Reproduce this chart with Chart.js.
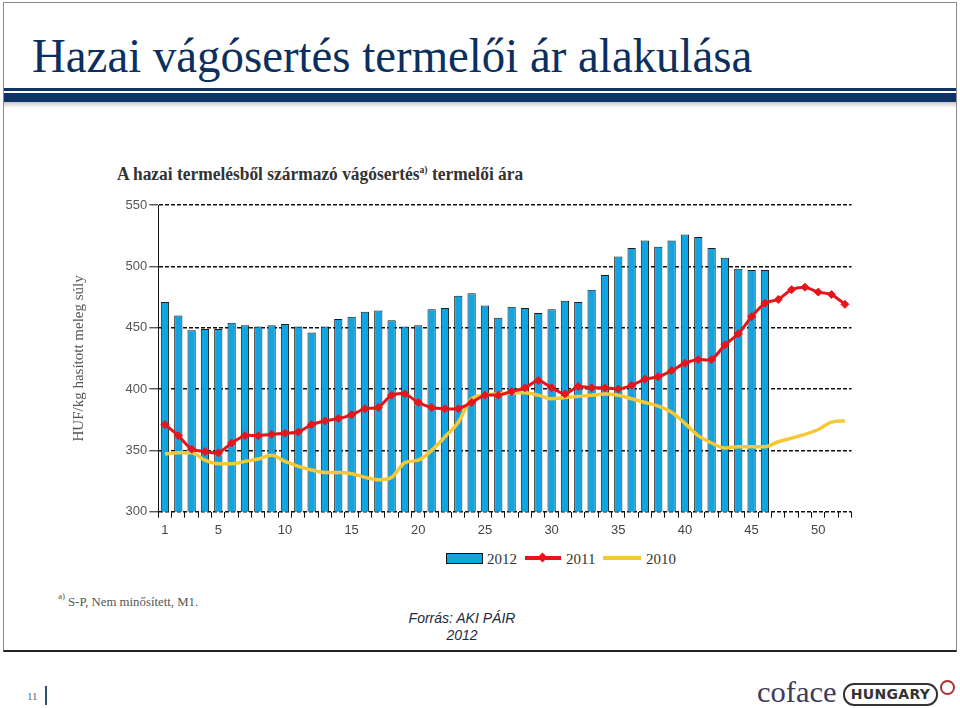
<!DOCTYPE html>
<html lang="hu">
<head>
<meta charset="utf-8">
<title>Hazai vágósertés termelői ár alakulása</title>
<script src="https://cdn.jsdelivr.net/npm/chart.js@4.4.1/dist/chart.umd.min.js"></script>
<style>
  html, body { margin: 0; padding: 0; background: #fff; }
  #page { position: relative; width: 960px; height: 708px; overflow: hidden; font-family: "Liberation Serif", serif; }
  #frame { position: absolute; left: 3px; top: 2px; width: 952px; height: 647px; border: 1px solid #8a8a8a; border-bottom: 2px solid #222; }
  .txt { position: absolute; white-space: nowrap; line-height: 1; transform-origin: 0 0; display: inline-block; }
  #title { left: 32px; top: 32px; font-size: 48px; color: #0b2f5e; }
  #rule1 { position: absolute; left: 4px; top: 88px; width: 952px; height: 3px; background: #0d3463; }
  #rule2 { position: absolute; left: 4px; top: 93px; width: 952px; height: 9px; background: #0d3463; }
  #shadow { position: absolute; left: 4px; top: 102px; width: 952px; height: 6px; background: linear-gradient(#c8c8c8, #fff); }
  #subtitle { left: 117px; top: 165px; font-size: 18px; font-weight: bold; color: #333; }
  #subtitle sup { font-size: 10px; vertical-align: 7px; }
  #chart { position: absolute; left: 60px; top: 190px; }
  #legend { position: absolute; left: 0; top: 0; }
  .lg-box { position: absolute; left: 446px; top: 553px; width: 35px; height: 9px; background: #11a4e2; border: 1px solid #111; }
  .lg-line { position: absolute; height: 4px; }
  .lg-dot { position: absolute; width: 7px; height: 7px; background: #e8141c; transform: rotate(45deg); }
  .lg-txt { position: absolute; top: 551px; font-size: 15px; color: #333; }
  #note { left: 68px; top: 595px; font-size: 13px; color: #555; }
  #note sup { font-size: 9px; position: absolute; left: -10px; top: -3px; }
  .src { position: absolute; width: 200px; left: 362px; text-align: center; font-family: "Liberation Sans", sans-serif; font-style: italic; font-size: 14px; color: #1b2b44; line-height: 1; }
  #pnum { left: 27px; top: 691px; font-size: 11px; color: #5a6a80; }
  #pbar { position: absolute; left: 45px; top: 686px; width: 2px; height: 19px; background: #2f4d6e; }
  #coface { left: 757px; top: 678px; font-size: 29px; color: #3c3c5c; }
  #hun { position: absolute; left: 843px; top: 683px; width: 91px; height: 19px; border: 2px solid #333; border-radius: 11px; font-family: "DejaVu Sans", sans-serif; font-weight: bold; font-size: 14px; color: #333; text-align: center; line-height: 19px; letter-spacing: 0.3px; }
  #emb { position: absolute; left: 940px; top: 680px; width: 11px; height: 11px; border: 2px solid #a33; border-radius: 50%; }
</style>
</head>
<body>
<div id="page">
  <div id="frame"></div>
  <span class="txt" id="title">Hazai vágósertés termelői ár alakulása</span>
  <div id="rule1"></div>
  <div id="rule2"></div>
  <div id="shadow"></div>
  <span class="txt" id="subtitle">A hazai termelésből származó vágósertés<sup>a)</sup> termelői ára</span>
  <canvas id="chart" width="800" height="360"></canvas>
  <div id="legend"></div>
  <span class="txt" id="note"><sup>a)</sup>S-P, Nem minősített, M1.</span>
  <div class="src" style="top:611px">Forrás: AKI PÁIR</div>
  <div class="src" style="top:628px">2012</div>
  <span class="txt" id="pnum">11</span>
  <div id="pbar"></div>
  <span class="txt" id="coface">coface</span>
  <div id="hun">HUNGARY</div>
  <div id="emb"></div>
</div>
<script>
// hetek (1-52)
var weeks = [1,2,3,4,5,6,7,8,9,10,11,12,13,14,15,16,17,18,19,20,21,22,23,24,25,26,
             27,28,29,30,31,32,33,34,35,36,37,38,39,40,41,42,43,44,45,46,47,48,49,50,51,52];
var yTicks = [300, 350, 400, 450, 500, 550];
var seriesNames = ["2012", "2011", "2010"];

// HUF/kg hasított meleg súly
var price2012 = [471,460,448,449,449,454,452,451,452,453,
                 451,446,451,457,459,463,464,456,451,452,
                 465,466,476,478,468,458,467,466,462,465,
                 472,471,481,493,508,515,521,516,521,526,
                 524,515,507,498,497,497];
var price2011 = [371,362,351,349,348,356,362,362,363,364,
                 365,371,374,376,379,384,385,395,396,389,
                 385,384,384,389,395,395,398,401,407,401,
                 396,402,401,401,400,403,408,410,415,421,
                 424,424,436,445,459,470,473,481,483,479,
                 477,469];
var price2010 = [347,348,348,342,339,339,341,343,346,341,
                 337,334,332,332,331,328,326,328,340,342,
                 350,361,373,392,395,396,397,397,395,392,
                 393,394,395,396,395,392,389,386,381,372,
                 362,356,352,353,353,353,357,360,363,367,
                 373,374];

var fit = function (id, w) {
  var el = document.getElementById(id);
  el.style.transform = "scaleX(" + (w / el.offsetWidth) + ")";
};
fit("title", 720);
fit("subtitle", 406);
fit("coface", 80);
fit("note", 130);

// legend
var $lg = document.getElementById("legend");
$lg.innerHTML =
  '<div class="lg-box"></div>' +
  '<span class="lg-txt" style="left:487px">' + seriesNames[0] + '</span>' +
  '<div class="lg-line" style="left:525px;top:556px;width:36px;background:#e8141c"></div>' +
  '<div class="lg-dot" style="left:539px;top:554px"></div>' +
  '<span class="lg-txt" style="left:566px">' + seriesNames[1] + '</span>' +
  '<div class="lg-line" style="left:603px;top:556px;width:38px;background:#f6c934"></div>' +
  '<span class="lg-txt" style="left:646px">' + seriesNames[2] + '</span>';

var tickFont = { family: "Liberation Sans", size: 13 };

new Chart(document.getElementById("chart"), {
  data: {
    labels: weeks,
    datasets: [
      {
        type: "line", label: seriesNames[1], data: price2011, order: 1,
        borderColor: "#e8141c", backgroundColor: "#e8141c", borderWidth: 3,
        pointStyle: "rectRot", pointRadius: 4, pointHoverRadius: 4,
        pointBorderWidth: 1, tension: 0.25
      },
      {
        type: "line", label: seriesNames[2], data: price2010, order: 2,
        borderColor: "#f6c934", borderWidth: 3.5, pointRadius: 0,
        tension: 0.4, cubicInterpolationMode: "monotone"
      },
      {
        type: "bar", label: seriesNames[0], data: price2012, order: 3,
        backgroundColor: "#11a4e2", borderColor: "#1a1a1a", borderWidth: 1,
        barPercentage: 0.62, categoryPercentage: 1
      }
    ]
  },
  options: {
    responsive: false,
    animation: false,
    devicePixelRatio: 1,
    layout: { padding: { top: 15, right: 8.4, left: 0, bottom: 0 } },
    plugins: { legend: { display: false }, tooltip: { enabled: false } },
    scales: {
      x: {
        offset: true,
        grid: { display: true, drawOnChartArea: false, drawTicks: true, tickLength: 6, color: "#111", lineWidth: 1, offset: true },
        border: { display: false },
        ticks: {
          autoSkip: false, maxRotation: 0, minRotation: 0, padding: 5,
          color: "#444", font: tickFont,
          callback: function (v, i) {
            return (weeks[i] === 1 || weeks[i] % 5 === 0) ? weeks[i] : "";
          }
        },
        afterFit: function (s) { s.height = 38.3; }
      },
      y: {
        min: yTicks[0], max: yTicks[yTicks.length - 1],
        afterBuildTicks: function (s) { s.ticks = yTicks.map(function (v) { return { value: v }; }); },
        ticks: { padding: 2, color: "#555", font: tickFont },
        grid: { color: "#111", lineWidth: 1.6, tickLength: 9, tickWidth: 1, drawTicks: true },
        border: { display: true, color: "#111", width: 1, dash: [4, 2] },
        title: {
          display: true, text: "HUF/kg hasított meleg súly", color: "#555",
          font: { family: "Liberation Serif", size: 15 }, padding: { top: 10, bottom: 0 }
        },
        afterFit: function (s) { s.width = 98.3; }
      }
    }
  }
});
</script>
</body>
</html>
